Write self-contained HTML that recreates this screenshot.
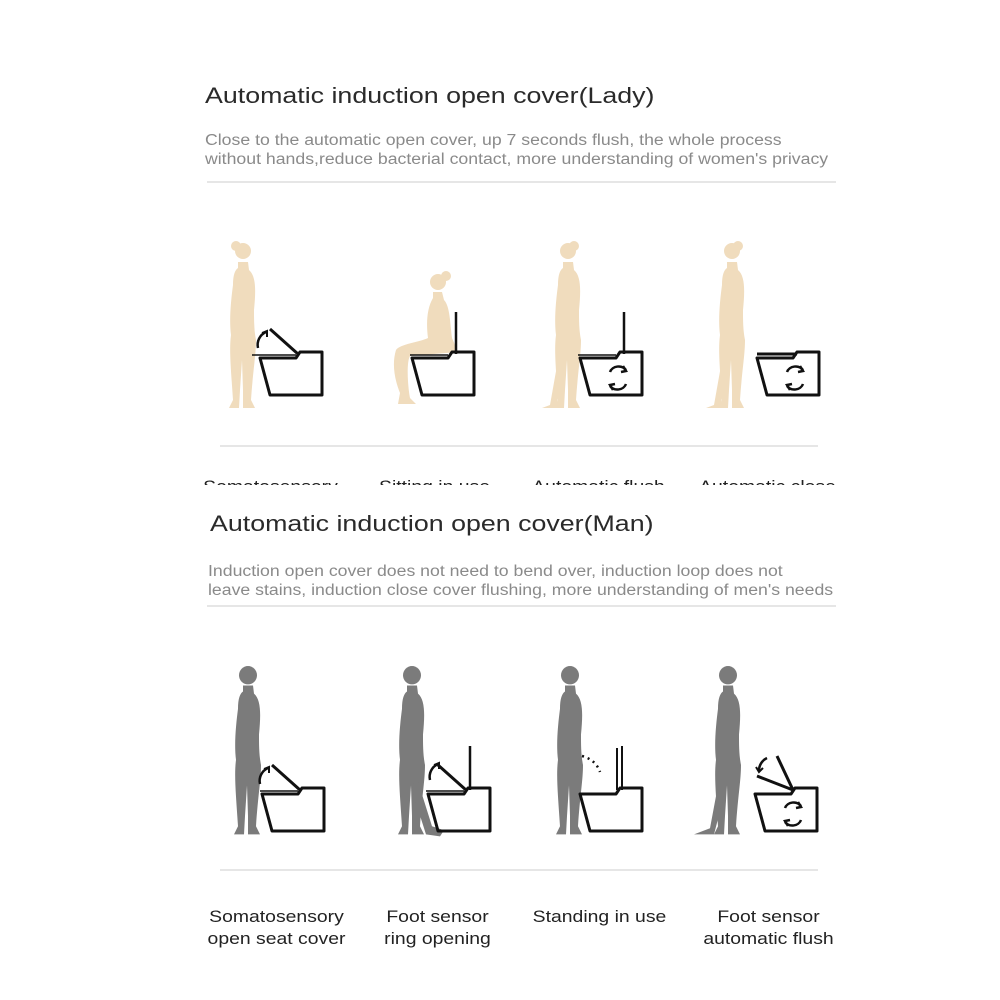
<!DOCTYPE html>
<html><head><meta charset="utf-8"><style>
body{margin:0;background:#fff;}
.wrap{position:relative;width:1000px;height:1000px;overflow:hidden;font-family:"Liberation Sans",sans-serif;}
.t{position:absolute;white-space:nowrap;transform-origin:0 0;}
.h{font-size:22.5px;color:#2a2a2a;transform:scaleX(1.19);}
.s{font-size:15.5px;color:#8a8a8a;line-height:19px;transform:scaleX(1.14);}
.l{font-size:17px;color:#222;line-height:22px;text-align:center;width:155px;transform:scaleX(1.14);transform-origin:50% 0;}
</style></head><body><div class="wrap">
<div class="t h" style="left:205px;top:83px;">Automatic induction open cover(Lady)</div>
<div class="t s" style="left:205px;top:131px;">Close to the automatic open cover, up 7 seconds flush, the whole process<br>without hands,reduce bacterial contact, more understanding of women's privacy</div>
<div class="t h" style="left:210px;top:511px;">Automatic induction open cover(Man)</div>
<div class="t s" style="left:208px;top:562px;">Induction open cover does not need to bend over, induction loop does not<br>leave stains, induction close cover flushing, more understanding of men's needs</div>
<div style="position:absolute;left:0;top:476px;width:1000px;height:9px;overflow:hidden">
<div class="t l" style="left:193px;top:0;">Somatosensory</div>
<div class="t l" style="left:357px;top:0;">Sitting in use</div>
<div class="t l" style="left:521px;top:0;">Automatic flush</div>
<div class="t l" style="left:690px;top:0;">Automatic close</div>
</div>
<div class="t l" style="left:199px;top:906px;">Somatosensory<br>open seat cover</div>
<div class="t l" style="left:360px;top:906px;">Foot sensor<br>ring opening</div>
<div class="t l" style="left:522px;top:906px;">Standing in use</div>
<div class="t l" style="left:691px;top:906px;">Foot sensor<br>automatic flush</div>
<svg width="1000" height="1000" style="position:absolute;left:0;top:0">
<defs>
<path id="stand" d="M15,22 L25,22 L26,30 C33,36 33,50 31,70 C31,80 31,90 33,100 C33,115 30,130 28,160 L32,168 L20,168 L20,150 L19,120 L17,150 L16,168 L6,168 L10,160 C8,130 6,110 8,95 C6,80 8,60 10,45 C10,35 12,30 15,28 Z"/>
<path id="toilet" d="M0,8 L36,8 L40,2 L62,2 L62,45 L10,45 Z" fill="none" stroke="#111" stroke-width="3" stroke-linejoin="round"/>
<g id="flush" fill="none" stroke="#111" stroke-width="2.5"><path d="M30,22 A9,8 0 0 1 46,20"/><path d="M46,34 A9,8 0 0 1 30,36"/><path d="M43,16 L46,21 L41,22" /><path d="M33,40 L30,35 L35,34"/></g>
</defs>
<g stroke="#e6e6e6" stroke-width="2"><line x1="207" y1="182" x2="836" y2="182"/><line x1="220" y1="446" x2="818" y2="446"/><line x1="207" y1="606" x2="836" y2="606"/><line x1="220" y1="870" x2="818" y2="870"/></g>
<g fill="#f0dcbd">
<g transform="translate(223,240)"><use href="#stand"/><circle cx="20" cy="11" r="8"/><circle cx="13" cy="6" r="5"/></g>
<g transform="translate(548,240)"><use href="#stand"/><circle cx="20" cy="11" r="8"/><circle cx="26" cy="6" r="5"/><path d="M10,120 L2,165 L-6,168 L8,168 L16,130 Z"/></g>
<g transform="translate(712,240)"><use href="#stand"/><circle cx="20" cy="11" r="8"/><circle cx="26" cy="6" r="5"/><path d="M10,120 L2,165 L-6,168 L8,168 L16,130 Z"/></g>
<g transform="translate(390,268)"><circle cx="48" cy="14" r="8"/><circle cx="56" cy="8" r="5"/><path d="M43,24 L52,24 L54,32 C60,38 60,55 62,70 L68,84 L20,88 C16,95 18,120 20,130 L26,136 L8,136 L10,125 C4,110 2,95 6,82 C10,76 30,74 38,70 C36,55 37,40 43,30 Z"/></g>
</g>
<g fill="#7b7b7b">
<g transform="translate(228,663) scale(1,1.02)"><use href="#stand"/><circle cx="20" cy="12" r="9"/></g>
<g transform="translate(392,663) scale(1,1.02)"><use href="#stand"/><circle cx="20" cy="12" r="9"/><path d="M24,110 L40,160 L52,164 L48,170 L34,168 L20,125 Z"/></g>
<g transform="translate(550,663) scale(1,1.02)"><use href="#stand"/><circle cx="20" cy="12" r="9"/></g>
<g transform="translate(708,663) scale(1,1.02)"><use href="#stand"/><circle cx="20" cy="12" r="9"/><path d="M10,120 L2,162 L-14,168 L6,168 L16,130 Z"/></g>
</g>
<g stroke="#111" fill="none">
<g transform="translate(260,350)"><use href="#toilet"/><line x1="-8" y1="5" x2="36" y2="5" stroke-width="1.5"/><line x1="38" y1="4" x2="10" y2="-21" stroke-width="3"/><path d="M-2,-2 A14,14 0 0 1 6,-18" stroke-width="2.5"/><path d="M2,-17 L7,-19 L7,-13" stroke-width="2"/></g>
<g transform="translate(412,350)"><use href="#toilet"/><line x1="-2" y1="5" x2="36" y2="5" stroke-width="1.5"/><line x1="44" y1="4" x2="44" y2="-38" stroke-width="2.5"/></g>
<g transform="translate(580,350)"><use href="#toilet"/><line x1="-2" y1="5" x2="36" y2="5" stroke-width="1.5"/><line x1="44" y1="4" x2="44" y2="-38" stroke-width="2.5"/><use href="#flush"/></g>
<g transform="translate(757,350)"><use href="#toilet"/><line x1="0" y1="4" x2="40" y2="4" stroke-width="3"/><use href="#flush"/></g>
</g>
<g stroke="#111" fill="none">
<g transform="translate(262,786)"><use href="#toilet"/><line x1="-2" y1="5" x2="36" y2="5" stroke-width="1.5"/><line x1="38" y1="4" x2="10" y2="-21" stroke-width="3"/><path d="M-2,-2 A14,14 0 0 1 6,-18" stroke-width="2.5"/><path d="M2,-17 L7,-19 L7,-13" stroke-width="2"/></g>
<g transform="translate(428,786)"><use href="#toilet"/><line x1="-2" y1="5" x2="36" y2="5" stroke-width="1.5"/><line x1="38" y1="4" x2="10" y2="-21" stroke-width="3"/><line x1="42" y1="4" x2="42" y2="-40" stroke-width="2.5"/><path d="M2,-6 A14,14 0 0 1 10,-22" stroke-width="2.5"/><path d="M6,-21 L11,-23 L11,-17" stroke-width="2"/></g>
<g transform="translate(580,786)"><use href="#toilet"/><line x1="37" y1="4" x2="37" y2="-38" stroke-width="2"/><line x1="42" y1="4" x2="42" y2="-40" stroke-width="2"/><path d="M2,-30 Q16,-26 20,-14" stroke-width="2.5" stroke-dasharray="2,4"/></g>
<g transform="translate(755,786)"><use href="#toilet"/><line x1="38" y1="4" x2="2" y2="-10" stroke-width="3"/><line x1="38" y1="4" x2="22" y2="-30" stroke-width="3"/><path d="M12,-28 A14,14 0 0 0 4,-15" stroke-width="2.5"/><path d="M1,-19 L4,-14 L8,-18" stroke-width="2"/><use href="#flush"/></g>
</g>
</svg>
</div></body></html>
